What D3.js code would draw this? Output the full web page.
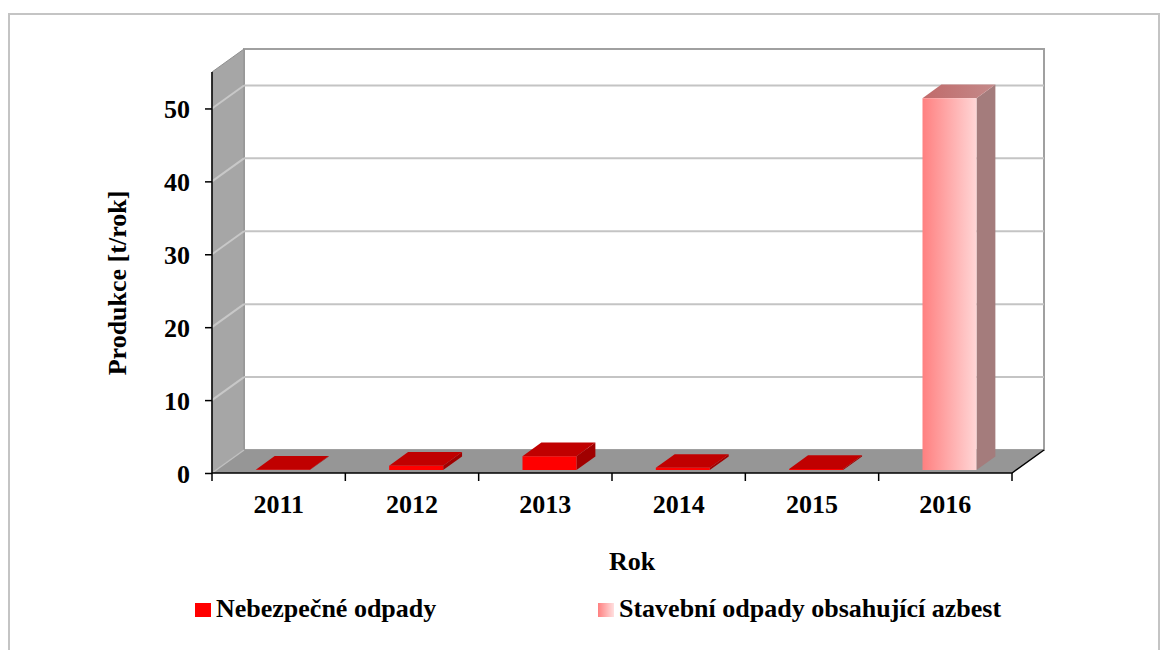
<!DOCTYPE html>
<html>
<head>
<meta charset="utf-8">
<script src="https://cdn.jsdelivr.net/npm/d3@7"></script>
<style>
  body { margin: 0; background: #fff; }
  text { font-family: "Times New Roman", "Liberation Serif", Tinos, Times, serif; font-weight: bold; fill: #000; }
</style>
</head>
<body>
<svg id="chart" width="1166" height="650"></svg>
<script>
var years = ["2011", "2012", "2013", "2014", "2015", "2016"];
var nebezpecne = [0.05, 0.6, 1.9, 0.3, 0.15, 0];
var azbest = [0, 0, 0, 0, 0, 51];
var yTicks = [0, 10, 20, 30, 40, 50];
var seriesNames = ["Nebezpečné odpady", "Stavební odpady obsahující azbest"];

var svg = d3.select("#chart");
var FONT = "'Times New Roman', 'Liberation Serif', Tinos, Times, serif";

// outer frame
svg.append("rect")
  .attr("x", 9).attr("y", 14).attr("width", 1150).attr("height", 650)
  .style("fill", "none").style("stroke", "#c4c4c4").style("stroke-width", 2);

var left = 212, right = 1012, depthX = 32, depthY = -23;

var xScale = d3.scaleBand().domain(years).range([left, right]).paddingInner(0.595).paddingOuter(0.2975);
var yScale = d3.scaleLinear().domain([0, 55]).range([473, 72]);

// projection of (x, value, depth 0..1)
function P(x, v, z) {
  return [x + z * depthX, yScale(v) + z * depthY];
}
function poly(pts) {
  return "M" + pts.map(function (p) { return p[0] + "," + p[1]; }).join("L") + "Z";
}

var defs = svg.append("defs");
var g1 = defs.append("linearGradient").attr("id", "pinkFront");
g1.append("stop").attr("offset", "0%").attr("stop-color", "#ff8080");
g1.append("stop").attr("offset", "100%").attr("stop-color", "#ffd6d6");
var g2 = defs.append("linearGradient").attr("id", "pinkTop");
g2.append("stop").attr("offset", "0%").attr("stop-color", "#c06a6a");
g2.append("stop").attr("offset", "100%").attr("stop-color", "#c48a8a");
var g3 = defs.append("linearGradient").attr("id", "pinkLegend");
g3.append("stop").attr("offset", "0%").attr("stop-color", "#ff8080");
g3.append("stop").attr("offset", "100%").attr("stop-color", "#ffe0e0");

var yMax = yScale.domain()[1];

// back wall
svg.append("path")
  .attr("d", poly([P(left, 0, 1), P(left, yMax, 1), P(right, yMax, 1), P(right, 0, 1)]))
  .style("fill", "#fff").style("stroke", "#a0a0a0").style("stroke-width", 2);

// left wall
svg.append("path")
  .attr("d", poly([P(left, 0, 0), P(left, yMax, 0), P(left, yMax, 1), P(left, 0, 1)]))
  .style("fill", "#a6a6a6").style("stroke", "#909090").style("stroke-width", 1);

// gridlines on back and left walls
yTicks.filter(function (d) { return d > 0; }).forEach(function (t) {
  var a = P(left, t, 0), b = P(left, t, 1), c = P(right, t, 1);
  svg.append("path").attr("d", "M" + a + "L" + b)
    .style("stroke", "#c8c8c8").style("stroke-width", 2).style("fill", "none");
  svg.append("path").attr("d", "M" + b + "L" + c)
    .style("stroke", "#c4c4c4").style("stroke-width", 2).style("fill", "none");
});

// floor
svg.append("path")
  .attr("d", poly([P(left, 0, 0), P(left, 0, 1), P(right, 0, 1), P(right, 0, 0)]))
  .style("fill", "#969696");
var fl0 = P(left, 0, 0), fl1 = P(left, 0, 1);
svg.append("path").attr("d", "M" + fl0 + "L" + fl1)
  .style("stroke", "#c0c0c0").style("stroke-width", 1.5);

// bars
var z0 = 0.13, z1 = 0.72;
function drawBar(x, w, v0, v1, front, top, side) {
  var g = svg.append("g");
  g.append("path").attr("d", poly([P(x + w, v0, z0), P(x + w, v0, z1), P(x + w, v1, z1), P(x + w, v1, z0)]))
    .style("fill", side);
  g.append("path").attr("d", poly([P(x, v1, z0), P(x, v1, z1), P(x + w, v1, z1), P(x + w, v1, z0)]))
    .style("fill", top);
  g.append("path").attr("d", poly([P(x, v0, z0), P(x, v1, z0), P(x + w, v1, z0), P(x + w, v0, z0)]))
    .style("fill", front);
}
years.forEach(function (yr, i) {
  var x = xScale(yr), w = xScale.bandwidth();
  if (nebezpecne[i] > 0) drawBar(x, w, 0, nebezpecne[i], "#ff0000", "#c00000", "#a00000");
  if (azbest[i] > 0) drawBar(x, w, nebezpecne[i], nebezpecne[i] + azbest[i], "url(#pinkFront)", "url(#pinkTop)", "#a47c7c");
});

// y axis
var yAxis = svg.append("g")
  .attr("transform", "translate(" + left + ",0)")
  .call(d3.axisLeft(yScale).tickValues(yTicks).tickSize(7).tickPadding(15));
yAxis.attr("font-family", null).attr("font-size", null);
yAxis.select(".domain").attr("d", "M0," + yScale(yMax) + "V" + yScale(0)).style("stroke", "#000").style("stroke-width", 1.5);
yAxis.selectAll(".tick line").style("stroke", "#000").style("stroke-width", 1.5);
yAxis.selectAll(".tick text").attr("dy", "0.35em")
  .style("font-size", "26px").style("font-family", FONT).style("font-weight", "bold");

// x axis
var xAxis = svg.append("g")
  .attr("transform", "translate(0," + yScale(0) + ")")
  .call(d3.axisBottom(xScale).tickSize(0).tickPadding(22));
xAxis.attr("font-family", null).attr("font-size", null);
xAxis.select(".domain").remove();
xAxis.selectAll(".tick text")
  .style("font-size", "26px").style("font-family", FONT).style("font-weight", "bold");
var bounds = years.map(function (d) { return xScale(d) - xScale.step() * xScale.paddingInner() / 2; });
bounds.push(right);
bounds[0] = left;
svg.append("path").attr("d", "M" + left + "," + yScale(0) + "H" + right + "L" + P(right, 0, 1))
  .style("stroke", "#000").style("stroke-width", 1.5).style("fill", "none");
svg.selectAll(".xtick").data(bounds).enter().append("line")
  .attr("x1", function (d) { return d; }).attr("x2", function (d) { return d; })
  .attr("y1", yScale(0)).attr("y2", yScale(0) + 8)
  .style("stroke", "#000").style("stroke-width", 1.5);

// axis titles
svg.append("text")
  .attr("text-anchor", "middle")
  .attr("transform", "translate(126,283)rotate(-90)")
  .style("font-size", "26px")
  .text("Produkce [t/rok]");
svg.append("text")
  .attr("x", 632).attr("y", 570)
  .attr("text-anchor", "middle")
  .style("font-size", "26px")
  .text("Rok");

// legend
var legendX = [195, 598];
var legendFill = ["#ff0000", "url(#pinkLegend)"];
seriesNames.forEach(function (name, i) {
  svg.append("rect").attr("x", legendX[i]).attr("y", 603).attr("width", 16).attr("height", 14)
    .style("fill", legendFill[i]);
  svg.append("text").attr("x", legendX[i] + 21).attr("y", 617)
    .style("font-size", "26px").text(name);
});
</script>
</body>
</html>
